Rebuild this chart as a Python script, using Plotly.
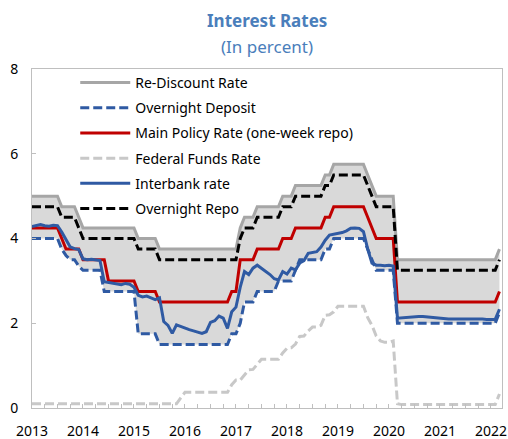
import plotly.graph_objects as go

# Monthly data, Jan 2013 (index 0) .. Mar 2022 (index 110)
re_discount = (
    [5.0] * 7 + [4.75] * 4 + [4.5] + [4.25] * 13 + [4.0] * 5 + [3.75] * 18
    + [3.75, 4.25] + [4.5] * 3 + [4.75] * 6 + [5.0] * 3 + [5.25] * 7 + [5.5] * 2
    + [5.75] * 8 + [5.5, 5.25] + [5.0] * 5 + [3.5] * 24 + [3.75]
)
overnight_repo = (
    [4.75] * 7 + [4.5] * 4 + [4.25] + [4.0] * 13 + [3.75] * 5 + [3.5] * 18
    + [3.5, 4.0] + [4.25] * 3 + [4.5] * 6 + [4.75] * 3 + [5.0] * 7 + [5.25] * 2
    + [5.5] * 8 + [5.25, 5.0] + [4.75] * 5 + [3.25] * 24 + [3.5]
)
main_policy = (
    [4.25] * 7 + [4.0] + [3.75] * 4 + [3.5] * 6 + [3.0] * 7 + [2.75] * 5 + [2.5] * 17
    + [2.75, 2.75] + [3.5] * 4 + [3.75] * 6 + [4.0] * 3 + [4.25] * 7 + [4.5] * 2
    + [4.75] * 8 + [4.5, 4.25] + [4.0] * 5 + [2.5] * 24 + [2.75]
)
overnight_deposit = (
    [4.0] * 7 + [3.75, 3.6, 3.5, 3.5, 3.35] + [3.25] * 5 + [2.75] * 8 + [1.75] * 5
    + [1.5] * 17 + [1.75, 1.75, 2.0] + [2.5] * 3 + [2.75] * 5 + [3.0] * 4
    + [3.25] + [3.5] * 6 + [3.75] * 2 + [4.0] * 8 + [3.75, 3.5] + [3.25] * 5
    + [2.0] * 24 + [2.25]
)
fed_funds = (
    [0.1] * 35 + [0.24] + [0.37] * 11
    + [0.55, 0.66, 0.66, 0.79, 0.9, 0.91, 1.04] + [1.15] * 5
    + [1.3, 1.41, 1.42, 1.51, 1.69, 1.7, 1.82, 1.91, 1.91, 1.95, 2.19, 2.2, 2.27]
    + [2.4] * 7 + [2.13, 1.95, 1.7, 1.58, 1.55, 1.55, 1.58, 0.1]
    + [0.08] * 23 + [0.33]
)
interbank = [
    4.28, 4.31, 4.33, 4.30, 4.29, 4.31, 4.30, 4.15, 3.98, 3.80, 3.76, 3.74,
    3.52, 3.50, 3.51, 3.50, 3.48, 2.98, 2.96, 2.95, 2.92, 2.91, 2.94, 2.92,
    2.85, 2.66, 2.62, 2.64, 2.60, 2.56, 2.60, 2.04, 1.95, 1.76, 1.96, 1.92,
    1.88, 1.85, 1.82, 1.79, 1.76, 1.80, 2.02, 2.06, 2.17, 2.12, 1.88, 2.27,
    2.38, 2.85, 3.22, 3.15, 3.30, 3.37, 3.30, 3.22, 3.15, 3.05, 3.02, 3.22,
    3.16, 3.30, 3.26, 3.42, 3.48, 3.65, 3.67, 3.69, 3.80, 3.96, 4.08, 4.10,
    4.12, 4.14, 4.18, 4.24, 4.25, 4.24, 4.16, 3.75, 3.42, 3.37, 3.37, 3.36,
    3.37, 3.35, 2.12, 2.13, 2.14, 2.15, 2.16, 2.16, 2.16, 2.15, 2.13, 2.12,
    2.12, 2.11, 2.10, 2.10, 2.10, 2.11, 2.10, 2.10, 2.10, 2.11, 2.10, 2.09,
    2.09, 2.09, 2.33,
]

n = len(interbank)
dates = [2013 + m / 12 for m in range(n)]

quarter_ticks = [2013 + q / 4 for q in range(0, 37)]
quarter_text = [str(int(t)) if abs(t - round(t)) < 1e-9 else "" for t in quarter_ticks]

FONT = "Noto Sans"
BLUE = "#2F5AA3"
DASH = "9px,4px"

fig = go.Figure()
# corridor fill (between overnight deposit and re-discount)
fig.add_trace(go.Scatter(x=dates, y=overnight_deposit, mode="lines",
                         line=dict(width=0, color="rgba(0,0,0,0)"),
                         showlegend=False, hoverinfo="skip"))
fig.add_trace(go.Scatter(x=dates, y=re_discount, mode="lines", fill="tonexty",
                         fillcolor="#D9D9D9", line=dict(width=0, color="rgba(0,0,0,0)"),
                         showlegend=False, hoverinfo="skip"))

series = [
    ("Re-Discount Rate", re_discount, "#A6A6A6", "solid"),
    ("Overnight Deposit", overnight_deposit, BLUE, DASH),
    ("Main Policy Rate (one-week repo)", main_policy, "#C00000", "solid"),
    ("Federal Funds Rate", fed_funds, "#C8C8C8", DASH),
    ("Interbank rate", interbank, BLUE, "solid"),
    ("Overnight Repo", overnight_repo, "#000000", DASH),
]
for i, (name, vals, col, dash) in enumerate(series):
    fig.add_trace(go.Scatter(x=dates, y=vals, mode="lines", name=name,
                             legendgroup=f"g{i}",
                             line=dict(color=col, width=3, dash=dash)))

fig.update_layout(
    width=508, height=439,
    margin=dict(l=32, r=6, t=69, b=31),
    paper_bgcolor="white", plot_bgcolor="white",
    font=dict(family=FONT, size=14, color="#000000"),
    showlegend=True,
    legend=dict(x=0.092, y=1.006, xanchor="left", yanchor="top",
                bgcolor="rgba(0,0,0,0)", borderwidth=0,
                font=dict(family=FONT, size=14, color="#000000"),
                traceorder="grouped", tracegroupgap=4, itemwidth=50),
    annotations=[
        dict(text="<b>Interest Rates</b>", x=0.5, y=1.1416, xref="paper", yref="paper",
             xanchor="center", yanchor="middle", showarrow=False,
             font=dict(family=FONT, size=17, color="#4A7EBB")),
        dict(text="(In percent)", x=0.5, y=1.0678, xref="paper", yref="paper",
             xanchor="center", yanchor="middle", showarrow=False,
             font=dict(family=FONT, size=17, color="#4A7EBB")),
    ],
)
fig.update_xaxes(range=[2013, 2013 + 110.6 / 12], tickmode="array",
                 tickvals=quarter_ticks, ticktext=quarter_text,
                 ticks="inside", ticklen=4, tickcolor="#BFBFBF", automargin=False,
                 showline=True, linecolor="#BFBFBF", linewidth=1, mirror=True,
                 showgrid=False, zeroline=False, ticklabelstandoff=10,
                 tickfont=dict(family=FONT, size=14, color="#000000"))
fig.update_yaxes(range=[0, 8], tickvals=[0, 2, 4, 6, 8], automargin=False,
                 ticks="inside", ticklen=4, tickcolor="#BFBFBF",
                 showline=True, linecolor="#BFBFBF", linewidth=1, mirror=True,
                 showgrid=False, zeroline=False, ticklabelstandoff=10,
                 tickfont=dict(family=FONT, size=14, color="#000000"))

fig.write_html("out.html", config={"displayModeBar": False},
               post_script="document.body.style.margin='0';")
